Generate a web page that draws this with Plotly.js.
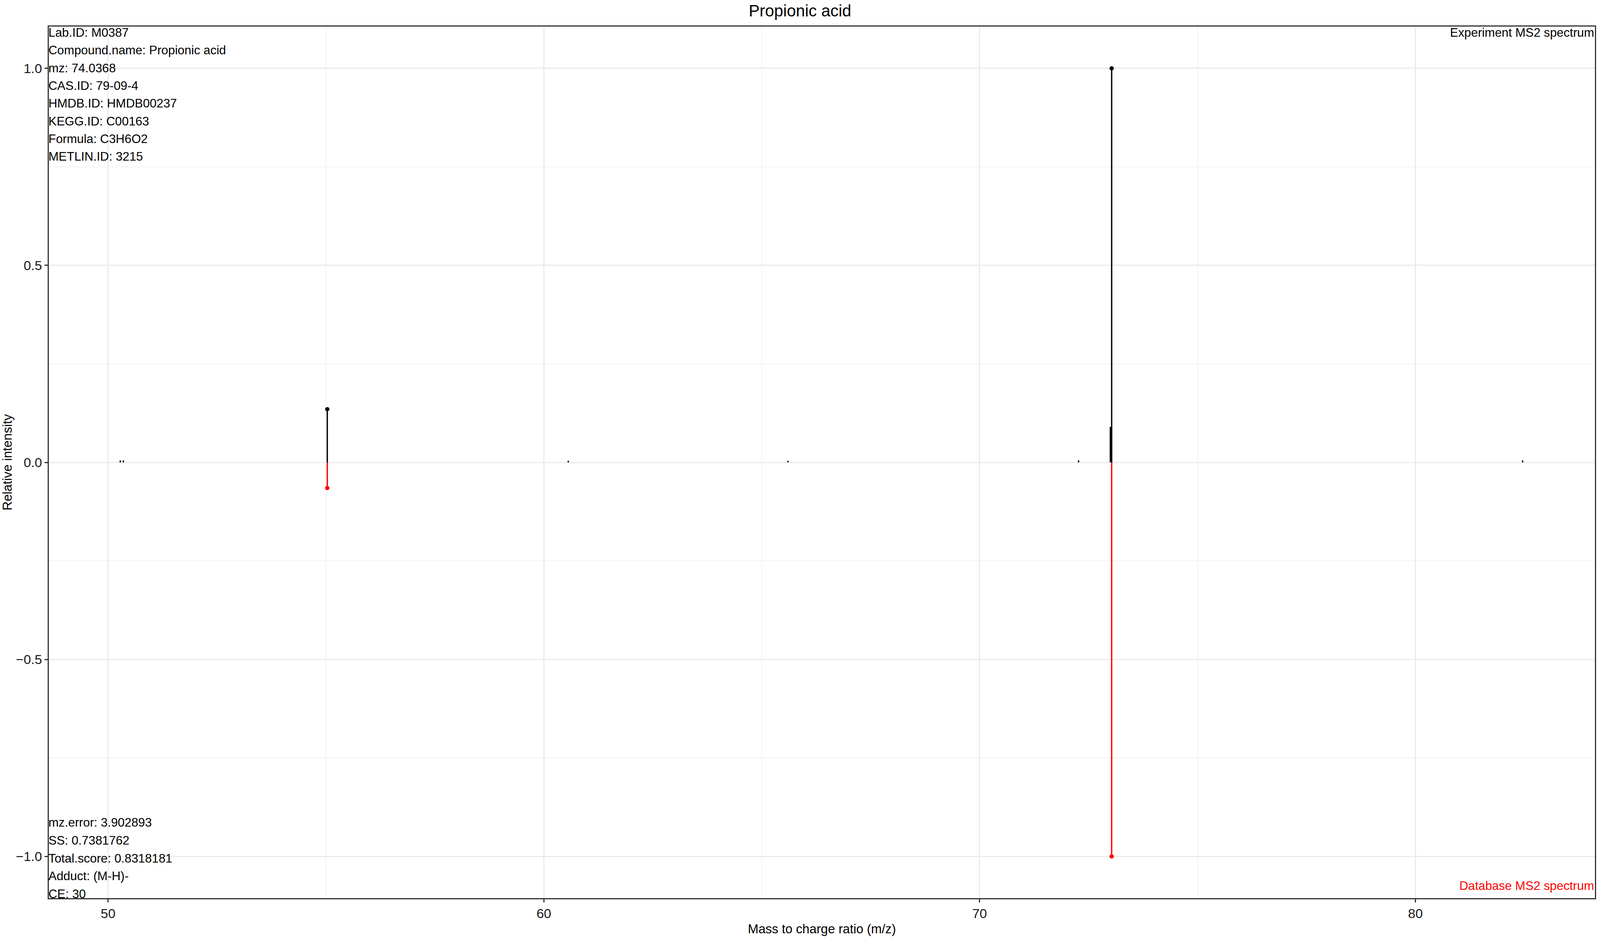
<!DOCTYPE html>
<html>
<head>
<meta charset="utf-8">
<script src="https://cdn.plot.ly/plotly-3.0.1.min.js"></script>
<style>html,body{margin:0;padding:0;background:#fff;overflow:hidden}#plot{width:100vw;height:100vh}</style>
</head>
<body>
<div id="plot"></div>
<script>
// experiment spectrum (positive side)
var expMz = [50.28, 50.35, 55.03, 60.56, 65.6, 72.27, 73.0, 73.03, 82.46];
var expInt = [0.005, 0.005, 0.135, 0.004, 0.004, 0.005, 0.09, 1.0, 0.005];
var expMatched = [false, false, true, false, false, false, false, true, false];
// database spectrum (negative side)
var dbMz = [55.03, 73.03];
var dbInt = [-0.065, -1.0];

var infoTop = ['Lab.ID: M0387', 'Compound.name: Propionic acid', 'mz: 74.0368', 'CAS.ID: 79-09-4',
  'HMDB.ID: HMDB00237', 'KEGG.ID: C00163', 'Formula: C3H6O2', 'METLIN.ID: 3215'];
var infoBottom = ['mz.error: 3.902893', 'SS: 0.7381762', 'Total.score: 0.8318181', 'Adduct: (M-H)-', 'CE: 30'];

// everything was measured on a 1568 px wide copy of the reference
var W = window.innerWidth, H = window.innerHeight;
var s = W / 1568;

function stems(mz, ints) {
    var x = [], y = [];
    mz.forEach(function (m, i) { x.push(m, m, null); y.push(0, ints[i], null); });
    return { x: x, y: y };
}

var e = stems(expMz, expInt);
var d = stems(dbMz, dbInt);
var data = [
    { x: e.x, y: e.y, mode: 'lines', line: { color: 'black', width: 1.3 * s }, hoverinfo: 'none' },
    { x: d.x, y: d.y, mode: 'lines', line: { color: 'red', width: 1.3 * s }, hoverinfo: 'none' },
    { x: expMz.filter((m, i) => expMatched[i]), y: expInt.filter((v, i) => expMatched[i]),
      mode: 'markers', marker: { color: 'black', size: 4.2 * s } },
    { x: dbMz, y: dbInt, mode: 'markers', marker: { color: 'red', size: 4.2 * s } }
];

var fam = 'Liberation Sans, Arial';
var fnt = { family: fam, size: 12 * s, color: 'black' };
var annotations = [];
infoTop.forEach(function (t, i) {
    annotations.push({ text: t, xref: 'paper', yref: 'paper', x: 0, y: 1, xanchor: 'left', yanchor: 'middle',
        xshift: -1 * s, yshift: -(6 + i * 17.35) * s, showarrow: false, font: fnt });
});
infoBottom.forEach(function (t, i) {
    annotations.push({ text: t, xref: 'paper', yref: 'paper', x: 0, y: 0, xanchor: 'left', yanchor: 'middle',
        xshift: -1 * s, yshift: (74 - i * 17.5) * s, showarrow: false, font: fnt });
});
annotations.push({ text: 'Experiment MS2 spectrum', xref: 'paper', yref: 'paper', x: 1, y: 1, xanchor: 'right',
    yanchor: 'middle', yshift: -6 * s, showarrow: false, font: fnt });
annotations.push({ text: 'Database MS2 spectrum', xref: 'paper', yref: 'paper', x: 1, y: 0, xanchor: 'right',
    yanchor: 'middle', yshift: 12 * s, showarrow: false, font: Object.assign({}, fnt, { color: 'red' }) });

var axisCommon = {
    showline: true, mirror: true, linecolor: '#333333', linewidth: 1 * s,
    gridcolor: '#EBEBEB', gridwidth: 1 * s, zeroline: false,
    ticks: 'outside', ticklen: 3 * s, tickwidth: 1 * s, tickcolor: '#333333',
    tickfont: { family: fam, size: 13 * s, color: '#1A1A1A' }
};

var layout = {
    width: W, height: H,
    margin: { l: 48 * s, r: 5 * s, t: 26 * s, b: 39 * s },
    showlegend: false,
    plot_bgcolor: 'white', paper_bgcolor: 'white',
    title: { text: 'Propionic acid', x: 0.5, xanchor: 'center', y: 1 - 5 * s / H, yanchor: 'top',
        font: { family: fam, size: 16 * s, color: 'black' } },
    xaxis: Object.assign({}, axisCommon, {
        range: [48.64, 84.12], dtick: 10, tick0: 50,
        minor: { dtick: 5, tick0: 50, showgrid: true, gridcolor: '#F2F2F2', gridwidth: 0.6 * s },
        title: { text: 'Mass to charge ratio (m/z)', standoff: 4 * s,
            font: { family: fam, size: 12.5 * s, color: 'black' } }
    }),
    yaxis: Object.assign({}, axisCommon, {
        range: [-1.106, 1.106], dtick: 0.5, tick0: 0, tickformat: '.1f',
        minor: { dtick: 0.25, tick0: 0, showgrid: true, gridcolor: '#F2F2F2', gridwidth: 0.6 * s },
        title: { text: 'Relative intensity', standoff: 6 * s,
            font: { family: fam, size: 12.5 * s, color: 'black' } }
    }),
    annotations: annotations
};

Plotly.newPlot('plot', data, layout, { displayModeBar: false });
</script>
</body>
</html>
